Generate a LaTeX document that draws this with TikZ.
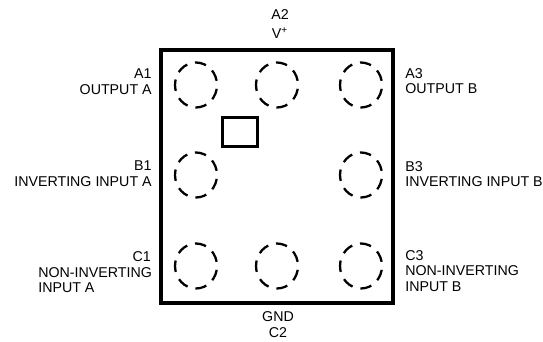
\documentclass[tikz,border=0pt]{standalone}
\usepackage{fontspec}
\setmainfont{Liberation Sans}
\usetikzlibrary{shapes.geometric,positioning}

\begin{document}
\begin{tikzpicture}[
			x=0.02cm,y=-0.02cm,
			pkgbox/.style={draw,line width=2pt,minimum width=4.64cm,minimum height=5.06cm,inner sep=0pt},
			markbox/.style={draw,line width=1.3pt,minimum width=0.7cm,minimum height=0.58cm,inner sep=0pt},
			bump/.style={draw,ellipse,line width=1.3pt,minimum width=0.84cm,minimum height=0.9cm,inner sep=0pt,dash pattern=on 6.5pt off 4.6pt,dash phase=8.7pt},
			pinlabel/.style={inner sep=0pt,font=\fontsize{8.1}{8.8}\selectfont}
		]
		\useasboundingbox (0,0) rectangle (543,341);

		\node[pkgbox] (pkg) at (277,176.5) {};
		\node[markbox] (mark) at (240,132) {};

		\node[bump] (A1) at (196,85) {};
		\node[bump] (A2) at (277,85) {};
		\node[bump] (A3) at (361,85) {};
		\node[bump] (B1) at (196,175) {};
		\node[bump] (B3) at (361,175) {};
		\node[bump] (C1) at (196,266) {};
		\node[bump] (C2) at (277,266) {};
		\node[bump] (C3) at (361,266) {};

		\node[pinlabel,align=center] (lA2) at (280,24) {A2\\[1.5pt]V\textsuperscript{+}};
		\node[pinlabel,align=center] (lC2) at (278,324.5) {GND\\C2};
		\node[pinlabel,align=right,anchor=east] (lA1) at (152,81.5) {A1\\OUTPUT A};
		\node[pinlabel,align=left,anchor=west] (lA3) at (405,81) {A3\\OUTPUT B};
		\node[pinlabel,align=right,anchor=east] (lB1) at (152,173.5) {B1\\INVERTING INPUT A};
		\node[pinlabel,align=left,anchor=west] (lB3) at (405,174) {B3\\INVERTING INPUT B};
		\node[pinlabel,align=left,anchor=north west] (lC1) at (38,251.5) {\hspace*{7.9em}\llap{C1}\\NON-INVERTING\\INPUT A};
		\node[pinlabel,align=left,anchor=west] (lC3) at (405,271) {C3\\NON-INVERTING\\INPUT B};
	\end{tikzpicture}
\end{document}
